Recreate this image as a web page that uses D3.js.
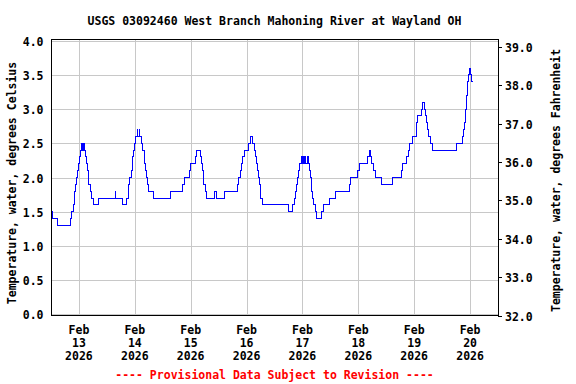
<!DOCTYPE html>
<html><head><meta charset="utf-8">
<script src="https://cdn.jsdelivr.net/npm/d3@7"></script>
<style>
html,body{margin:0;padding:0;background:#fff;}
svg{display:block;}
text{font-family:"DejaVu Sans Mono",monospace;font-weight:bold;font-size:11.5px;fill:#000;}
</style></head><body>
<svg id="chart" width="576" height="384"></svg>
<script>
const title = "USGS 03092460 West Branch Mahoning River at Wayland OH";
const yLabelLeft = "Temperature, water, degrees Celsius";
const yLabelRight = "Temperature, water, degrees Fahrenheit";
const footer = "---- Provisional Data Subject to Revision ----";
const startTime = "2026-02-12T12:00:00Z";
const endTime = "2026-02-20T12:00:00Z";

// observation change points: hours after startTime, water temperature (deg C)
const hoursFromStart = [
  0,0.7,3.0,8.3,8.9,9.5,9.9,10.3,10.7,11.0,11.3,11.6,12.2,12.6,13.0,13.4,13.9,14.3,14.9,15.3,15.6,15.9,16.3,16.8,17.3,18.3,20.2,27.6,27.9,30.5,
  32.5,33.1,33.5,33.9,34.4,34.8,35.2,35.5,35.8,36.2,37.0,37.3,37.9,38.2,39.0,39.5,40.0,40.3,40.5,41.0,41.4,42.0,44.1,
  51.4,56.3,57.2,59.4,60.0,62.0,62.6,64.0,64.5,64.9,65.3,65.7,66.2,67.0,70.3,70.9,74.6,
  80.1,80.7,81.2,81.8,82.4,82.9,84.7,85.5,86.7,87.2,87.7,88.1,88.5,89.0,89.4,89.8,90.2,90.8,
  102.1,103.9,104.4,105.1,105.6,106.0,106.4,106.9,107.6,108.0,108.6,108.9,109.2,109.5,110.0,110.4,110.9,111.3,111.7,112.0,112.3,112.6,113.8,114.0,116.2,117.0,119.5,122.2,
  128.1,128.6,131.8,132.5,136.1,137.0,137.4,137.8,138.5,139.4,141.9,146.8,150.4,151.0,
  152.9,153.4,154.0,155.1,156.9,157.1,157.3,159.0,159.6,160.4,161.0,161.5,161.9,162.3,162.9,163.9,
  174.3,176.8,177.3,177.7,178.0,178.6,179.1,179.5,179.9,180.4,180.8,181.2
];
const tempC = [
  1.5,1.4,1.3,1.4,1.5,1.6,1.7,1.8,1.9,2.0,2.1,2.2,2.3,2.4,2.5,2.4,2.5,2.4,2.3,2.2,2.1,2.0,1.9,1.8,1.7,1.6,1.7,1.8,1.7,1.6,
  1.7,1.8,1.9,2.0,2.1,2.2,2.3,2.4,2.5,2.6,2.7,2.6,2.7,2.6,2.5,2.4,2.3,2.2,2.1,2.0,1.9,1.8,1.7,
  1.8,1.9,2.0,2.1,2.2,2.3,2.4,2.3,2.2,2.1,2.0,1.9,1.8,1.7,1.8,1.7,1.8,
  1.9,2.0,2.1,2.2,2.3,2.4,2.5,2.6,2.5,2.4,2.3,2.2,2.1,2.0,1.9,1.8,1.7,1.6,
  1.5,1.6,1.7,1.8,1.9,2.0,2.1,2.2,2.3,2.2,2.3,2.2,2.3,2.2,2.3,2.2,2.1,2.0,1.9,1.8,1.7,1.6,1.5,1.4,1.5,1.6,1.7,1.8,
  1.9,2.0,2.1,2.2,2.3,2.4,2.3,2.2,2.1,2.0,1.9,2.0,2.1,2.2,
  2.3,2.4,2.5,2.6,2.7,2.8,2.9,3.0,3.1,3.0,2.9,2.8,2.7,2.6,2.5,2.4,
  2.5,2.6,2.7,2.8,3.0,3.2,3.4,3.5,3.6,3.5,3.4,3.4
];

const xTickDates = ["2026-02-13","2026-02-14","2026-02-15","2026-02-16","2026-02-17","2026-02-18","2026-02-19","2026-02-20"];
const xTickMonth = "Feb";
const yTicksC = [0.0,0.5,1.0,1.5,2.0,2.5,3.0,3.5,4.0];
const yTicksF = [32,33,34,35,36,37,38,39];

const L = 51, R = 498, T = 40, B = 315;
const svg = d3.select("#chart");

const x = d3.scaleUtc().domain([new Date(startTime), new Date(endTime)]).range([L, R]);
const y = d3.scaleLinear().domain([0, 4]).range([314.2, 40.8]);
const yF = d3.scaleLinear().domain([32, 39]).range([315.5, 46.8]);

const t0 = new Date(startTime).getTime();
const data = hoursFromStart.map((h, i) => ({t: new Date(t0 + h * 3600000), v: tempC[i]}));

// grid
const grid = svg.append("g").attr("stroke", "#c8c8c8").attr("stroke-width", 1).attr("shape-rendering", "crispEdges");
yTicksC.forEach(v => {
  const yy = Math.round(y(v)) + 0.5;
  grid.append("line").attr("x1", L).attr("x2", R).attr("y1", yy).attr("y2", yy);
});
xTickDates.forEach(d => {
  const xx = Math.round(x(new Date(d + "T00:00:00Z"))) + 0.5;
  grid.append("line").attr("x1", xx).attr("x2", xx).attr("y1", T).attr("y2", B);
});

// data line
const line = d3.line().x(d => x(d.t)).y(d => y(d.v)).curve(d3.curveStepAfter);
svg.append("path").datum(data).attr("d", line)
  .attr("fill", "none").attr("stroke", "#0000ff").attr("stroke-width", 1)
  .attr("shape-rendering", "crispEdges");

// frame
svg.append("rect").attr("x", L + 0.5).attr("y", T - 0.5).attr("width", R - L).attr("height", B - T + 1)
  .attr("fill", "none").attr("stroke", "#000").attr("stroke-width", 1).attr("shape-rendering", "crispEdges");

// left axis labels
yTicksC.forEach(v => {
  svg.append("text").attr("x", 43.5).attr("y", y(v) + 5).attr("text-anchor", "end").text(v.toFixed(1));
});
// right axis ticks and labels
yTicksF.forEach(f => {
  const yy = Math.round(yF(f)) + 0.5;
  svg.append("line").attr("x1", R).attr("x2", R + 4).attr("y1", yy).attr("y2", yy)
    .attr("stroke", "#000").attr("shape-rendering", "crispEdges");
  svg.append("text").attr("x", 505).attr("y", yF(f) + 5).text(f.toFixed(1));
});
// x labels
xTickDates.forEach(d => {
  const dt = new Date(d + "T00:00:00Z");
  const xx = x(dt);
  const g = svg.append("g");
  g.append("text").attr("x", xx).attr("y", 334).attr("text-anchor", "middle").text(xTickMonth);
  g.append("text").attr("x", xx).attr("y", 347).attr("text-anchor", "middle").text(String(dt.getUTCDate()));
  g.append("text").attr("x", xx).attr("y", 360).attr("text-anchor", "middle").text(String(dt.getUTCFullYear()));
});

// titles
svg.append("text").attr("x", (L + R) / 2).attr("y", 25).attr("text-anchor", "middle").text(title);
svg.append("text").attr("transform", "translate(15.5,183) rotate(-90)").attr("text-anchor", "middle").text(yLabelLeft);
svg.append("text").attr("transform", "translate(560,180.5) rotate(-90)").attr("text-anchor", "middle").text(yLabelRight);
svg.append("text").attr("x", (L + R) / 2).attr("y", 379).attr("text-anchor", "middle")
  .style("fill", "#ff0000").text(footer);
</script>
</body></html>
